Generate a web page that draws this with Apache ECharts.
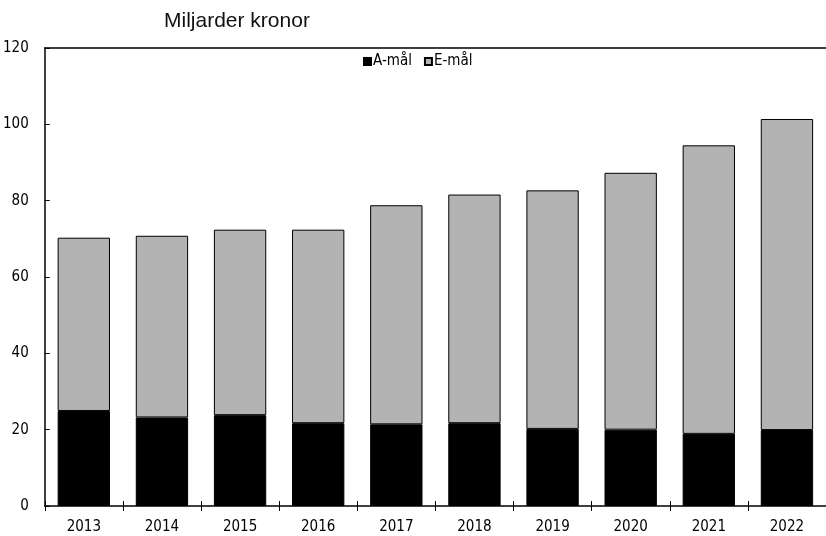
<!DOCTYPE html>
<html>
<head>
<meta charset="utf-8">
<script src="https://cdn.jsdelivr.net/npm/echarts@6/dist/echarts.min.js"></script>
<style>
html,body{margin:0;padding:0;background:#fff;}
#chart{width:826px;height:536px;}
</style>
</head>
<body>
<div id="chart"></div>
<script>
const years = ['2013','2014','2015','2016','2017','2018','2019','2020','2021','2022'];
const aMal = [24.9, 23.2, 23.8, 21.7, 21.4, 21.7, 20.2, 20.0, 18.9, 19.9];
const eMal = [45.4, 47.6, 48.6, 50.7, 57.4, 59.9, 62.5, 67.3, 75.6, 81.5];
const yTicks = [0, 20, 40, 60, 80, 100, 120];

const FONT = '"DejaVu Sans Condensed", "Liberation Sans Narrow", sans-serif';
const chart = echarts.init(document.getElementById('chart'), null, {renderer: 'canvas'});
chart.setOption({
  animation: false,
  backgroundColor: '#fff',
  title: {
    text: 'Miljarder kronor',
    left: 159, top: 6,
    textStyle: {fontFamily: '"Liberation Sans", Arial, sans-serif', fontSize: 21, fontWeight: 'normal', color: '#111'}
  },
  legend: {
    data: ['A-mål', 'E-mål'],
    left: 358, top: 49,
    itemWidth: 7, itemHeight: 7, itemGap: 12,
    icon: 'rect',
    textStyle: {fontFamily: FONT, fontSize: 15, color: '#000', padding: [0,0,0,-3]}
  },
  grid: {left: 44, top: 48, width: 785, bottom: 30, containLabel: false},
  xAxis: [
    {
      type: 'category', data: years, position: 'bottom',
      axisLine: {show: true, lineStyle: {color: '#000', width: 1.5}},
      axisTick: {show: true, inside: true, length: 5, lineStyle: {color: '#000'}},
      axisLabel: {fontFamily: FONT, fontSize: 15, color: '#000', margin: 14}
    },
    {
      type: 'category', data: years, position: 'bottom',
      axisLine: {show: false},
      axisTick: {show: true, inside: false, length: 5, lineStyle: {color: '#000'}},
      axisLabel: {show: false}
    },
    {
      type: 'category', data: years, position: 'top',
      axisLine: {show: true, lineStyle: {color: '#000', width: 1.5}},
      axisTick: {show: false},
      axisLabel: {show: false}
    }
  ],
  yAxis: {
    type: 'value', min: 0, max: 120, interval: 20,
    axisLine: {show: true, lineStyle: {color: '#000', width: 1.5}},
    axisTick: {show: true, inside: true, length: 5, lineStyle: {color: '#000'}},
    axisLabel: {fontFamily: FONT, fontSize: 15, color: '#000', margin: 16,
      formatter: v => yTicks.includes(v) ? String(v) : ''},
    splitLine: {show: false}
  },
  series: [
    {
      name: 'A-mål', type: 'bar', stack: 'total', data: aMal, barWidth: '67%',
      itemStyle: {color: '#000', borderColor: '#000', borderWidth: 1}
    },
    {
      name: 'E-mål', type: 'bar', stack: 'total', data: eMal, barWidth: '67%',
      itemStyle: {color: '#b3b3b3', borderColor: '#000', borderWidth: 1}
    }
  ]
});
</script>
</body>
</html>
